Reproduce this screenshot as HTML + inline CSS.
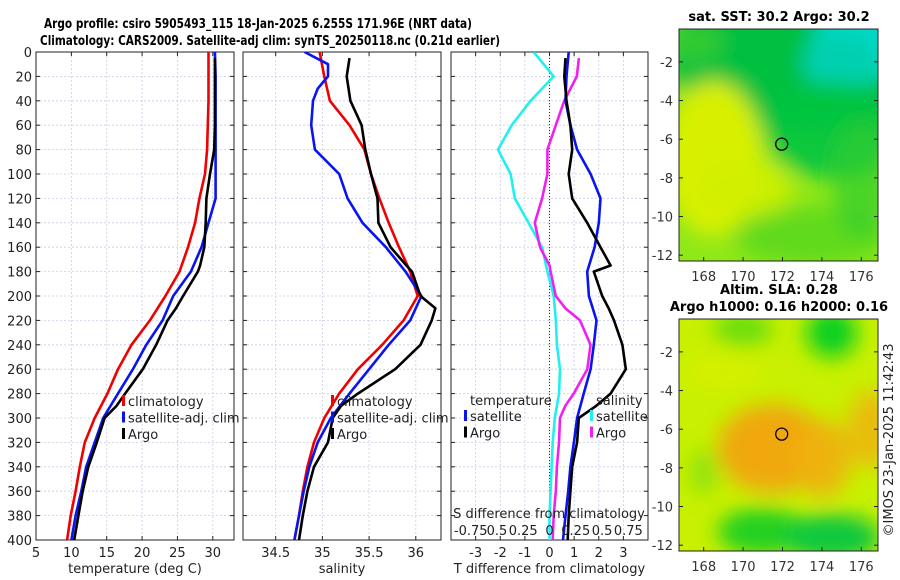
<!DOCTYPE html>
<html><head><meta charset="utf-8"><style>
html,body{margin:0;padding:0;background:#fff;}
svg{display:block;font-family:"DejaVu Sans","Liberation Sans",sans-serif;}
</style></head><body>
<svg id="fig" width="900" height="580" viewBox="0 0 900 580" xmlns="http://www.w3.org/2000/svg">
<defs>
 <clipPath id="c1"><rect x="36" y="52" width="198" height="488"/></clipPath>
 <clipPath id="c2"><rect x="243" y="52" width="198" height="488"/></clipPath>
 <clipPath id="c3"><rect x="451" y="52" width="197" height="488"/></clipPath>
 <clipPath id="m1"><rect x="679" y="29" width="199" height="232"/></clipPath>
 <clipPath id="m2"><rect x="679" y="319" width="199" height="232"/></clipPath>
 <filter id="blur8"><feGaussianBlur stdDeviation="10"/></filter>
</defs>
<text x="258" y="28" font-size="13.5" font-weight="bold" text-anchor="middle" textLength="428" lengthAdjust="spacingAndGlyphs">Argo profile: csiro 5905493_115 18-Jan-2025 6.255S 171.96E (NRT data)</text>
<text x="270" y="45" font-size="13.5" font-weight="bold" text-anchor="middle" textLength="460" lengthAdjust="spacingAndGlyphs">Climatology: CARS2009. Satellite-adj clim: synTS_20250118.nc (0.21d earlier)</text>
<g id="plots"></g>
<g id="maps"></g>
</svg>
<script>
// depth levels (m)
var depths = [0,20,40,60,80,100,120,140,160,180,200,220,240,260,280,300,320,340,360,380,400];
var argoDepths = [5,20,40,60,80,100,120,140,160,175,180,200,210,220,240,260,280,290,300,320,340,360,380,400];
// temperature (deg C)
var tempClim = [29.4,29.4,29.4,29.3,29.2,28.9,28.1,27.5,26.5,25.3,23.3,21.1,18.5,16.6,15.1,13.3,11.9,11.2,10.6,9.9,9.4];
var tempSat  = [30.3,30.4,30.4,30.4,30.4,30.4,30.4,29.4,28.4,26.9,24.4,22.9,20.6,18.7,16.6,14.5,13.3,12.1,11.4,10.6,10.0];
var tempArgo = [30.3,30.3,30.3,30.3,30.2,29.6,29.1,29.0,28.8,28.2,27.9,25.8,24.8,23.6,22.0,20.1,17.6,16.4,14.7,13.6,12.4,11.6,11.0,10.4];
// salinity
var salClim = [34.97,35.02,35.08,35.29,35.45,35.52,35.61,35.71,35.82,35.94,36.02,35.87,35.64,35.38,35.18,35.02,34.91,34.84,34.79,34.75,34.70];
var salSatDepths = [0,10,20,30,40,60,80,100,120,140,160,180,200,220,240,260,280,300,320,340,360,380,400];
var salSat = [34.81,35.06,35.06,34.95,34.90,34.88,34.92,35.18,35.27,35.43,35.68,35.89,36.06,35.94,35.71,35.50,35.29,35.09,34.95,34.86,34.80,34.75,34.70];
var salArgo = [35.29,35.26,35.30,35.42,35.46,35.52,35.59,35.60,35.73,35.90,35.96,36.05,36.21,36.17,36.05,35.78,35.38,35.20,35.11,35.06,34.91,34.84,34.79,34.75];
// differences from climatology
var tDiffSat  = [0.78,0.69,0.65,0.85,1.12,1.67,2.07,2.0,1.83,1.53,1.6,1.91,1.8,1.67,1.39,1.12,0.99,0.85,0.76,0.65,0.55];
var tDiffArgo = [0.65,0.6,0.69,0.85,0.92,0.78,0.92,1.53,2.07,2.48,1.8,2.14,2.4,2.62,2.96,3.1,2.48,1.9,1.19,1.12,0.92,0.85,0.78,0.74];
var sDiffSat  = [-0.15,0.04,-0.18,-0.36,-0.49,-0.37,-0.33,-0.2,-0.07,-0.02,0.04,0.06,0.07,0.1,0.09,0.05,0.03,0.02,0.01,0.0,0.0];
var sDiffArgo = [0.28,0.26,0.14,0.06,-0.02,-0.02,-0.07,-0.14,-0.09,0.0,0.01,0.06,0.15,0.29,0.39,0.36,0.23,0.15,0.1,0.09,0.07,0.06,0.04,0.03];
var depthTicks = [0,20,40,60,80,100,120,140,160,180,200,220,240,260,280,300,320,340,360,380,400];
var tempTicks = [5,10,15,20,25,30];
var salTicks = [34.5,35,35.5,36];
var tdTicks = [-3,-2,-1,0,1,2,3];
var sdLabels = ["-0.75","0.5","0.25","0","0.25","0.5","0.75"];

var NS="http://www.w3.org/2000/svg";
function mk(tag,attrs,parent){var e=document.createElementNS(NS,tag);for(var k in attrs)e.setAttribute(k,attrs[k]);(parent||document.getElementById('plots')).appendChild(e);return e;}
var Y0=52,Y1=540;
function yD(d){return Y0+(d/400)*(Y1-Y0);}
function lin(d0,d1,p0,p1){return function(v){return p0+(v-d0)/(d1-d0)*(p1-p0);};}
var xT=lin(5,33,36,234), xS=lin(34.15,36.27,243,441), xTD=lin(-4,4,451,648), xSD=lin(-0.9375,0.9375,451,648);

function panel(name,x0,x1,ticks,xf,labels,xlab,clip,showY){
  var g=mk('g',{});
  
  
  depthTicks.forEach(function(d){var l=mk('line',{x1:x0,x2:x1,y1:yD(d),y2:yD(d),stroke:'#c8cce8','stroke-width':0.8,'stroke-dasharray':'2,2'},g);
    mk('line',{x1:x0,x2:x0+4,y1:yD(d),y2:yD(d),stroke:'#222'},g);mk('line',{x1:x1,x2:x1-4,y1:yD(d),y2:yD(d),stroke:'#222'},g);
    if(showY){var t=mk('text',{x:x0-4,y:yD(d)+5,'font-size':13,'text-anchor':'end',fill:'#222'},g);t.textContent=d;}});
  ticks.forEach(function(v,i){var X=xf(v);var l=mk('line',{x1:X,x2:X,y1:Y0,y2:Y1,stroke:'#c8cce8','stroke-width':0.8,'stroke-dasharray':'2,2'},g);
    mk('line',{x1:X,x2:X,y1:Y1,y2:Y1-4,stroke:'#222'},g);mk('line',{x1:X,x2:X,y1:Y0,y2:Y0+4,stroke:'#222'},g);
    var t=mk('text',{x:X,y:Y1+17,'font-size':13,'text-anchor':'middle',fill:'#222'},g);t.textContent=labels?labels[i]:v;});
  var t=mk('text',{x:(x0+x1)/2,y:Y1+33,'font-size':13,'text-anchor':'middle',fill:'#222'},g);t.textContent=xlab;
  var b=mk('rect',{x:x0,y:Y0,width:x1-x0,height:Y1-Y0,fill:'none',stroke:'#222','stroke-width':1},g);
  return g;
}
function line(vals,ds,xf,color,name,clip){
  var p=vals.map(function(v,i){return (i?'L':'M')+xf(v).toFixed(1)+','+yD(ds[i]).toFixed(1);}).join('');
  var e=mk('path',{d:p,fill:'none',stroke:color,'stroke-width':2.6,'stroke-linejoin':'round','clip-path':'url(#'+clip+')'});
  
  
}
function legend(x,y,items){
  items.forEach(function(it,i){
    var m=mk('rect',{x:x,y:y+i*16.5-11,width:3,height:11,fill:it[1]});
    
    
    var t=mk('text',{x:x+6,y:y+i*16.5,'font-size':13,fill:'#222'});t.textContent=it[0];
    
    
  });
}
panel('temperature-panel',36,234,tempTicks,xT,null,'temperature (deg C)','c1',true);
line(tempClim,depths,xT,'#f00000','temp-climatology-line','c1');
line(tempSat,depths,xT,'#0a14f0','temp-satellite-line','c1');
line(tempArgo,argoDepths,xT,'#000','temp-argo-line','c1');
legend(122,406,[['climatology','#f00000'],['satellite-adj. clim','#0a14f0'],['Argo','#000']]);

panel('salinity-panel',243,441,salTicks,xS,null,'salinity','c2',false);
line(salClim,depths,xS,'#f00000','sal-climatology-line','c2');
line(salSat,salSatDepths,xS,'#0a14f0','sal-satellite-line','c2');
line(salArgo,argoDepths,xS,'#000','sal-argo-line','c2');
legend(331,406,[['climatology','#f00000'],['satellite-adj. clim','#0a14f0'],['Argo','#000']]);

panel('difference-panel',451,648,tdTicks,xTD,null,'T difference from climatology','c3',false);
var z=mk('line',{x1:xTD(0),x2:xTD(0),y1:Y0,y2:Y1,stroke:'#333','stroke-width':1,'stroke-dasharray':'1,2'});


line(sDiffSat,depths,xSD,'#20f0f0','sal-diff-satellite-line','c3');
line(sDiffArgo,argoDepths,xSD,'#f020f0','sal-diff-argo-line','c3');
line(tDiffSat,depths,xTD,'#0a14f0','temp-diff-satellite-line','c3');
line(tDiffArgo,argoDepths,xTD,'#000','temp-diff-argo-line','c3');
var tt=mk('text',{x:470,y:405,'font-size':13,fill:'#222'});tt.textContent='temperature';


var ts=mk('text',{x:596,y:405,'font-size':13,fill:'#222'});ts.textContent='salinity';


legend(464,421,[['satellite','#0a14f0'],['Argo','#000']]);
legend(590,421,[['satellite','#20f0f0'],['Argo','#f020f0']]);
var s1=mk('text',{x:549,y:518,'font-size':13,'text-anchor':'middle',fill:'#222'});s1.textContent='S difference from climatology';


var sdv=[-0.75,-0.5,-0.25,0,0.25,0.5,0.75];
sdv.forEach(function(v,i){var t=mk('text',{x:xSD(v),y:535,'font-size':13,'text-anchor':'middle',fill:'#222'});t.textContent=sdLabels[i];
 
 });

// maps
var M=document.getElementById('maps');
var lonTicks=[168,170,172,174,176], latTicks=[-2,-4,-6,-8,-10,-12];
function mapPanel(name,y0,title,blobs,base){
  var g=mk('g',{},M);
  var cx=lin(167,177,684,881), cy=lin(-0.3,-12.3,y0,y0+232);
  var inner=mk('g',{'clip-path':'url(#'+(y0<100?'m1':'m2')+')'},g);
  mk('rect',{x:679,y:y0,width:199,height:232,fill:base},inner);
  var bg=mk('g',{filter:'url(#blur8)'},inner);
  blobs.forEach(function(b){mk('ellipse',{cx:cx(b[0]),cy:cy(b[1]),rx:b[2]*19.7,ry:b[3]*19.4,fill:b[4],opacity:b[5]},bg);});
  var c=mk('circle',{cx:cx(171.96),cy:cy(-6.255),r:6,fill:'none',stroke:'#000','stroke-width':1.3},g);
  mk('rect',{x:679,y:y0,width:199,height:232,fill:'none',stroke:'#222'},g);
  lonTicks.forEach(function(v){var X=cx(v);mk('line',{x1:X,x2:X,y1:y0+232,y2:y0+228,stroke:'#222'},g);var t=mk('text',{x:X,y:y0+252,'font-size':13,'text-anchor':'middle',fill:'#333'},g);t.textContent=v;});
  latTicks.forEach(function(v){var Y=cy(v);mk('line',{x1:679,x2:683,y1:Y,y2:Y,stroke:'#222'},g);mk('line',{x1:878,x2:874,y1:Y,y2:Y,stroke:'#222'},g);var t=mk('text',{x:673,y:Y+5,'font-size':13,'text-anchor':'end',fill:'#333'},g);t.textContent=v;});
  title.forEach(function(s,i){var t=mk('text',{x:779,y:y0-8-(title.length-1-i)*17,'font-size':13,'font-weight':'bold','text-anchor':'middle'},g);t.textContent=s;});
}
mapPanel('sst-map',29,['sat. SST: 30.2 Argo: 30.2'],[
 [173,-1.5,7,4,'#00c040',1],[176,-1,2.5,2,'#00d8c8',1],[175,-2,2,1.5,'#00d0b0',1],
 [174.5,-5.5,3.5,2.5,'#00c440',0.9],[168.5,-7,2.5,4,'#d8f000',1],[170,-8.5,2.5,1.5,'#d0f000',0.9],
 [167.5,-1,1.5,1,'#40cc30',0.8],
 [173.5,-11,4,1.5,'#40d020',0.6],[176,-8,1.5,3,'#30cc30',0.7]],'#90e818');
mapPanel('sla-map',319,['Altim. SLA: 0.28','Argo h1000: 0.16 h2000: 0.16'],[
 [171.5,-7,2.8,2.3,'#f0a810',1],[174,-7.5,1.5,2,'#f0b010',0.9],[176.5,-6,1.2,2,'#f0b010',0.8],
 [171,-11.3,2.3,1.2,'#20d020',1],[174.5,-11.6,2.5,1.2,'#10c840',1],[174.5,-1,1.3,1.3,'#10d020',1],
 [170,-0.8,1.5,0.9,'#60dc10',0.9],[168,-8.2,0.7,1.2,'#80e010',0.8],[169,-3,2,1,'#d8f000',0.7]],'#c8f000');
var cr=mk('text',{x:893,y:440,'font-size':13,'text-anchor':'middle',fill:'#222',transform:'rotate(-90 893 440)'},M);
cr.textContent='©IMOS 23-Jan-2025 11:42:43';


</script>
</body></html>
